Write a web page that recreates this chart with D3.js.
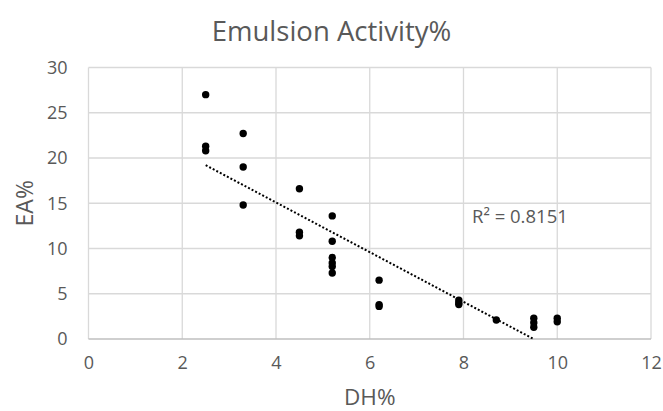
<!DOCTYPE html>
<html>
<head>
<meta charset="utf-8">
<script src="https://cdn.jsdelivr.net/npm/d3@7"></script>
<style>
  html, body { margin: 0; padding: 0; background: #fff; }
  svg { display: block; }
  text { font-family: "Open Sans", "Noto Sans", sans-serif; fill: #595959; }
</style>
</head>
<body>
<svg id="chart" width="663" height="411"></svg>
<script>
// ---- data ----
const dh = [2.5, 2.5, 2.5, 3.3, 3.3, 3.3, 4.5, 4.5, 4.5, 5.2, 5.2, 5.2, 5.2, 5.2, 5.2,
            6.2, 6.2, 6.2, 7.9, 7.9, 7.9, 8.7, 9.5, 9.5, 9.5, 10, 10];
const ea = [27.0, 21.3, 20.8, 22.7, 19.0, 14.8, 16.6, 11.8, 11.4, 13.6, 10.8, 9.0, 8.4, 8.0, 7.3,
            6.5, 3.8, 3.6, 4.3, 4.0, 3.8, 2.1, 2.3, 1.8, 1.3, 2.3, 1.9];
const xTicks = [0, 2, 4, 6, 8, 10, 12];
const yTicks = [0, 5, 10, 15, 20, 25, 30];
const chartTitle = "Emulsion Activity%";
const xTitle = "DH%";
const yTitle = "EA%";
const r2Label = "R² = 0.8151";

// ---- layout ----
const W = 663, H = 411;
const m = { left: 88.5, right: 12, top: 67.5, bottom: 72 };
const svg = d3.select("#chart");

const x = d3.scaleLinear().domain([0, 12]).range([m.left, W - m.right]);
const y = d3.scaleLinear().domain([0, 30]).range([H - m.bottom, m.top]);

// gridlines
const g = svg.append("g");
g.selectAll("line.v").data(xTicks.slice(1)).join("line")
  .attr("x1", d => x(d)).attr("x2", d => x(d))
  .attr("y1", y(0)).attr("y2", y(30))
  .attr("stroke", "#d9d9d9").attr("stroke-width", 1.3);
g.selectAll("line.h").data(yTicks.slice(1)).join("line")
  .attr("x1", x(0)).attr("x2", x(12))
  .attr("y1", d => y(d)).attr("y2", d => y(d))
  .attr("stroke", "#d9d9d9").attr("stroke-width", 1.3);
// axis lines
g.append("line").attr("x1", x(0)).attr("x2", x(0)).attr("y1", y(0)).attr("y2", y(30))
  .attr("stroke", "#d9d9d9").attr("stroke-width", 1.3);
g.append("line").attr("x1", x(0)).attr("x2", x(12)).attr("y1", y(0)).attr("y2", y(0))
  .attr("stroke", "#bfbfbf").attr("stroke-width", 1.3);

// axes (labels only)
const xAxis = d3.axisBottom(x).tickValues(xTicks).tickSize(0).tickPadding(17);
const yAxis = d3.axisLeft(y).tickValues(yTicks).tickSize(0).tickPadding(21);
const gx = svg.append("g").attr("transform", `translate(0,${y(0)})`).call(xAxis);
const gy = svg.append("g").attr("transform", `translate(${x(0)},0)`).call(yAxis);
[gx, gy].forEach(a => {
  a.select(".domain").remove();
  a.selectAll("text").attr("font-size", 18).attr("font-family", null).style("fill", "#595959");
});

// trendline (least squares), clipped at y = 0
const n = dh.length;
const mx = d3.mean(dh), my = d3.mean(ea);
let sxy = 0, sxx = 0;
for (let i = 0; i < n; i++) { sxy += (dh[i] - mx) * (ea[i] - my); sxx += (dh[i] - mx) ** 2; }
const slope = sxy / sxx, icpt = my - slope * mx;
const xs = d3.min(dh);
const xe = Math.min(d3.max(dh), -icpt / slope);
svg.append("line")
  .attr("x1", x(xs)).attr("y1", y(icpt + slope * xs))
  .attr("x2", x(xe)).attr("y2", y(icpt + slope * xe))
  .attr("stroke", "#000").attr("stroke-width", 2)
  .attr("stroke-dasharray", "2,2");

// points
svg.append("g").selectAll("circle").data(dh.map((d, i) => [d, ea[i]])).join("circle")
  .attr("cx", d => x(d[0])).attr("cy", d => y(d[1])).attr("r", 3.7)
  .attr("fill", "#000");

// titles
svg.append("text").attr("x", W / 2).attr("y", 41)
  .attr("text-anchor", "middle").attr("font-size", 27.5).text(chartTitle);
svg.append("text").attr("x", (x(0) + x(12)) / 2).attr("y", 405)
  .attr("text-anchor", "middle").attr("font-size", 22.5).text(xTitle);
svg.append("text")
  .attr("transform", `translate(33,${(y(0) + y(30)) / 2}) rotate(-90)`)
  .attr("text-anchor", "middle").attr("font-size", 23).text(yTitle);
svg.append("text").attr("x", 472).attr("y", 223)
  .attr("font-size", 18.5).text(r2Label);
</script>
</body>
</html>
